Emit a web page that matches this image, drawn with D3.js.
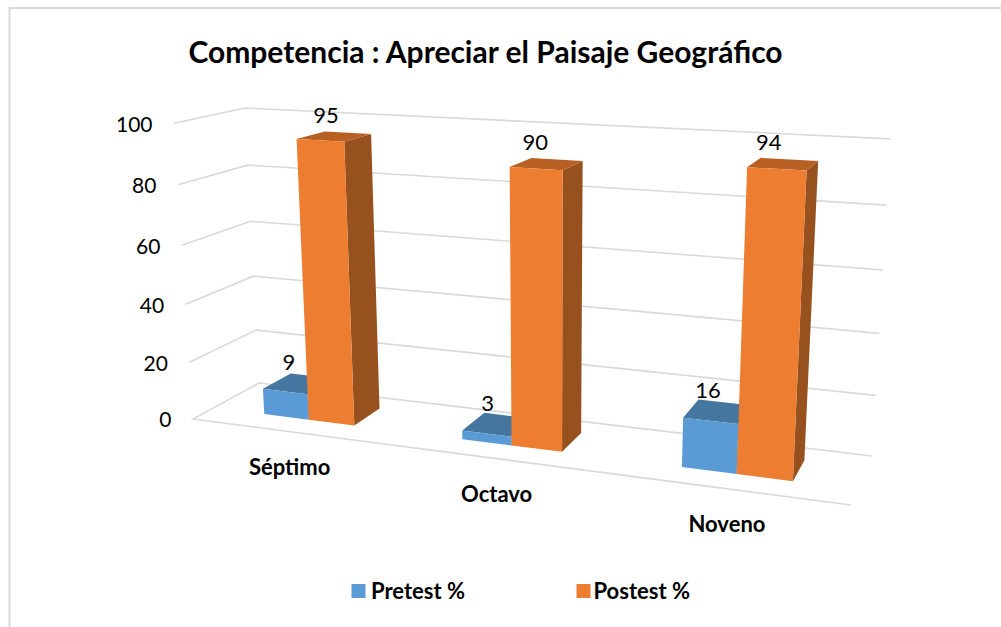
<!DOCTYPE html>
<html><head><meta charset="utf-8">
<script src="https://cdn.jsdelivr.net/npm/d3@7/dist/d3.min.js"></script>
<style>html,body{margin:0;padding:0;background:#fff}svg{display:block}text{font-family:Lato,"Open Sans",sans-serif;fill:#000}</style>
</head><body><div id="c"></div>
<script>
const titleText = "Competencia : Apreciar el Paisaje Geográfico";
const categories = ["Séptimo","Octavo","Noveno"];
const seriesNames = ["Pretest %","Postest %"];
const pretest = [9,3,16];
const postest = [95,90,94];
const yTicks = [0,20,40,60,80,100];

const W=1001,H=627;
const svg=d3.select("#c").append("svg").attr("width",W).attr("height",H);
svg.append("path").attr("d",`M${W},8H9.5V${H}`).attr("fill","none").attr("stroke","#d9d9d9").attr("stroke-width",2);

// camera: the image of the plot box corners
const O=[193,419],X=[851,505],Y=[174,123.2],Z=[259,383],XZ=[872,456];
function weights(p0,p1,p2,p3){
  const d1=[p1[0]-p2[0],p1[1]-p2[1]],d2=[p3[0]-p2[0],p3[1]-p2[1]],
        s=[p0[0]-p1[0]+p2[0]-p3[0],p0[1]-p1[1]+p2[1]-p3[1]],
        det=d1[0]*d2[1]-d2[0]*d1[1];
  return [(s[0]*d2[1]-d2[0]*s[1])/det,(d1[0]*s[1]-s[0]*d1[1])/det];
}
const [wx,wz]=weights(O,X,XZ,Z);
const wy=-0.0505;
function P(x,y,z){
  const w=1+wx*x+wy*y+wz*z;
  return [0,1].map(i=>(O[i]+x*(X[i]*(1+wx)-O[i])+y*(Y[i]*(1+wy)-O[i])+z*(Z[i]*(1+wz)-O[i]))/w);
}
const yS=d3.scaleLinear().domain([0,100]).range([0,1]);
const xS=d3.scaleBand().domain(categories).range([0.0015,1.0015]).paddingInner(0.533).paddingOuter(0.2665);
const sS=d3.scaleBand().domain(seriesNames).range([0,xS.bandwidth()]);
const Z0=0.30,Z1=0.74;
const line=d3.line();

// grid
svg.append("g").selectAll("path").data(yTicks).join("path")
  .attr("d",v=>{const y=yS(v);
    const pts=[P(0,y,0),P(0,y,1),P(1,y,1)];
    if(v===0) pts.unshift(P(1,0,0));
    return line(pts);})
  .attr("fill","none").attr("stroke","#d9d9d9").attr("stroke-width",1.6);
svg.append("g").selectAll("text").data(yTicks).join("text")
  .attr("x",v=>P(0,yS(v),0)[0]-21.5).attr("y",v=>P(0,yS(v),0)[1]+3)
  .attr("text-anchor","end").attr("dominant-baseline","middle")
  .attr("font-size",21).text(v=>v);

const shades=[{front:"#5b9bd5",top:"#44769f",side:"#3f6f9c"},{front:"#ed7d31",top:"#b85f24",side:"#97511e"}];
const seriesVals=[pretest,postest];
seriesNames.forEach((name,si)=>{
  const g=svg.append("g");
  categories.forEach((cat,ci)=>{
    const x0=xS(cat)+sS(name),x1=x0+sS.bandwidth(),v=yS(seriesVals[si][ci]);
    const c=shades[si];
    const face=(pts,fill)=>g.append("path").attr("d",line(pts)+"Z").attr("fill",fill);
    face([P(x1,0,Z0),P(x1,0,Z1),P(x1,v,Z1),P(x1,v,Z0)],c.side);
    face([P(x0,v,Z0),P(x1,v,Z0),P(x1,v,Z1),P(x0,v,Z1)],c.top);
    face([P(x0,0,Z0),P(x1,0,Z0),P(x1,v,Z0),P(x0,v,Z0)],c.front);
  });
});
seriesNames.forEach((name,si)=>{
  categories.forEach((cat,ci)=>{
    const x=xS(cat)+sS(name)+sS.bandwidth()/2,val=seriesVals[si][ci];
    const p=P(x,yS(val),(Z0+Z1)/2);
    const dx=si===0?-10:-6.5-9*x;
    svg.append("text").attr("x",p[0]+dx).attr("y",p[1]-19.5)
      .attr("text-anchor","middle").attr("dominant-baseline","middle")
      .attr("font-size",22).text(val);
  });
});
// category labels
svg.append("g").selectAll("text").data(categories).join("text")
  .attr("x",c=>P(xS(c)+xS.bandwidth()/2,0,0)[0]).attr("y",c=>P(xS(c)+xS.bandwidth()/2,0,0)[1]+37.5)
  .attr("text-anchor","middle").attr("dominant-baseline","middle")
  .attr("font-size",22).attr("font-weight",700).text(c=>c);
// title
svg.append("text").attr("x",485.5).attr("y",55).attr("text-anchor","middle").attr("dominant-baseline","middle")
  .attr("font-size",30).attr("font-weight",700).text(titleText);
// legend
const legX=[351.5,576.5],legTextX=[371,593.5];
seriesNames.forEach((n,i)=>{
  svg.append("rect").attr("x",legX[i]).attr("y",584).attr("width",14).attr("height",14).attr("fill",shades[i].front);
  svg.append("text").attr("x",legTextX[i]).attr("y",593).attr("dominant-baseline","middle")
    .attr("font-size",22).attr("font-weight",700).text(n);
});
</script></body></html>
